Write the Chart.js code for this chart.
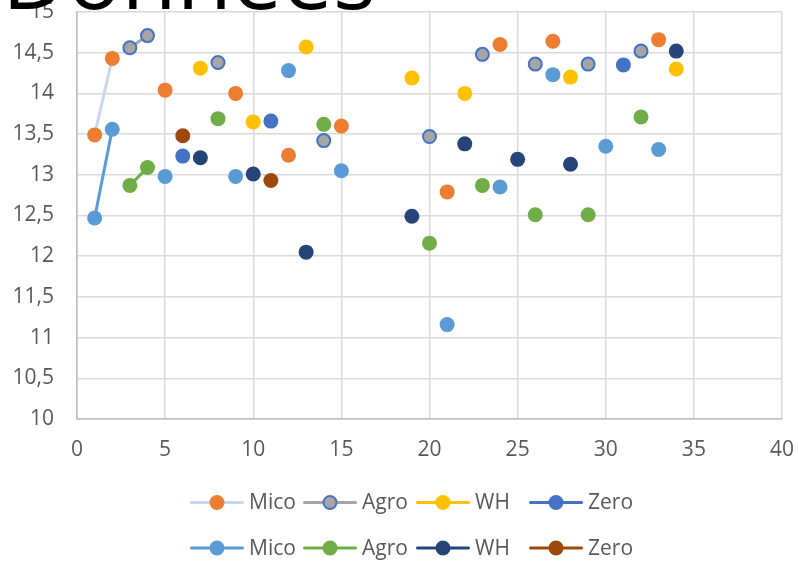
<!DOCTYPE html>
<html>
<head>
<meta charset="utf-8">
<script src="https://cdn.jsdelivr.net/npm/chart.js@4.4.1/dist/chart.umd.min.js"></script>
<style>
  html, body { margin: 0; padding: 0; background: #ffffff; overflow: hidden; }
  #wrap { position: relative; width: 798px; height: 562px; }
</style>
</head>
<body>
<div id="wrap"><canvas id="chart" width="798" height="562"></canvas></div>
<script>
// Row numbers used as x values
const rows = [1, 2, 3, 4, 5, 6, 7, 8, 9, 10, 11, 12, 13, 14, 15, 16, 17,
              18, 19, 20, 21, 22, 23, 24, 25, 26, 27, 28, 29, 30, 31, 32, 33, 34];

const seriesNames = ['Mico', 'Agro', 'WH', 'Zero', 'Mico', 'Agro', 'WH', 'Zero'];

// First group of series (blank cells left as null)
const micoA = [13.49, 14.43, null, null, 14.04, null, null, null, 14.00, null, null, 13.24, null, null, 13.60, null, null,
               null, null, null, 12.79, null, null, 14.60, null, null, 14.64, null, null, null, null, null, 14.66, null];
const agroA = [null, null, 14.56, 14.71, null, null, null, 14.38, null, null, null, null, null, 13.42, null, null, null,
               null, null, 13.47, null, null, 14.48, null, null, 14.36, null, null, 14.36, null, null, 14.52, null, null];
const whA   = [null, null, null, null, null, null, 14.31, null, null, 13.65, null, null, 14.57, null, null, null, null,
               null, 14.19, null, null, 14.00, null, null, null, null, null, 14.20, null, null, null, null, null, 14.30];
const zeroA = [null, null, null, null, null, 13.23, null, null, null, null, 13.66, null, null, null, null, null, null,
               null, null, null, null, null, null, null, null, null, null, null, null, null, 14.35, null, null, null];

// Second group of series
const micoB = [12.47, 13.56, null, null, 12.98, null, null, null, 12.98, null, null, 14.28, null, null, 13.05, null, null,
               null, null, null, 11.16, null, null, 12.85, null, null, 14.23, null, null, 13.35, null, null, 13.31, null];
const agroB = [null, null, 12.87, 13.09, null, null, null, 13.69, null, null, null, null, null, 13.62, null, null, null,
               null, null, 12.16, null, null, 12.87, null, null, 12.51, null, null, 12.51, null, null, 13.71, null, null];
const whB   = [null, null, null, null, null, null, 13.21, null, null, 13.01, null, null, 12.05, null, null, null, null,
               null, 12.49, null, null, 13.38, null, null, 13.19, null, null, 13.13, null, null, null, null, null, 14.52];
const zeroB = [null, null, null, null, null, 13.48, null, null, null, null, 12.93, null, null, null, null, null, null,
               null, null, null, null, null, null, null, null, null, null, null, null, null, null, null, null, null];

const xTickLabels = ['0', '5', '10', '15', '20', '25', '30', '35', '40'];
const yTickLabels = ['10', '10,5', '11', '11,5', '12', '12,5', '13', '13,5', '14', '14,5', '15'];

const titleText = 'Données';

const seriesValues = [micoA, agroA, whA, zeroA, micoB, agroB, whB, zeroB];

// Styling per series: line colour, marker fill, marker border
const styles = [
  { line: '#C7D6EF', fill: '#ED7D31', border: '#ED7D31', bw: 0 },
  { line: '#A5A5A5', fill: '#A5A5A5', border: '#4472C4', bw: 2 },
  { line: '#FFC000', fill: '#FFC000', border: '#FFC000', bw: 0 },
  { line: '#4472C4', fill: '#4472C4', border: '#4472C4', bw: 0 },
  { line: '#5B9BD5', fill: '#5B9BD5', border: '#5B9BD5', bw: 0 },
  { line: '#70AD47', fill: '#70AD47', border: '#70AD47', bw: 0 },
  { line: '#264478', fill: '#264478', border: '#264478', bw: 0 },
  { line: '#9E480E', fill: '#9E480E', border: '#9E480E', bw: 0 }
];

const FONT = '"Open Sans", "DejaVu Sans", sans-serif';
const TEXT_COLOR = '#595959';

const datasets = seriesValues.map((vals, i) => ({
  label: seriesNames[i],
  data: rows.map((x, k) => ({ x: x, y: vals[k] })),
  showLine: true,
  spanGaps: false,
  borderColor: styles[i].line,
  borderWidth: 3,
  borderCapStyle: 'round',
  pointRadius: styles[i].bw ? 6.5 : 7.5,
  pointBackgroundColor: styles[i].fill,
  pointBorderColor: styles[i].border,
  pointBorderWidth: styles[i].bw,
  order: -i
}));

// Large chart title
const titlePlugin = {
  id: 'bigTitle',
  afterDraw(chart) {
    const ctx = chart.ctx;
    ctx.save();
    ctx.font = '90px ' + FONT;
    ctx.fillStyle = '#000000';
    ctx.textAlign = 'left';
    ctx.textBaseline = 'alphabetic';
    ctx.fillText(titleText, 2, 9);
    ctx.restore();
  }
};

// Two-row legend with line-and-marker samples in equal columns
const legendPlugin = {
  id: 'gridLegend',
  afterDraw(chart) {
    const ctx = chart.ctx;
    const colW = 113, lineLen = 54, left = 190;
    const rowY = [502.5, 548];
    ctx.save();
    ctx.font = '21px ' + FONT;
    ctx.textBaseline = 'middle';
    ctx.textAlign = 'left';
    chart.data.datasets.forEach((ds, i) => {
      const x0 = left + (i % 4) * colW;
      const y = rowY[Math.floor(i / 4)];
      ctx.strokeStyle = ds.borderColor;
      ctx.lineWidth = 3;
      ctx.lineCap = 'round';
      ctx.beginPath();
      ctx.moveTo(x0 + 1.5, y);
      ctx.lineTo(x0 + lineLen - 1.5, y);
      ctx.stroke();
      ctx.beginPath();
      ctx.arc(x0 + lineLen / 2, y, ds.pointRadius, 0, Math.PI * 2);
      ctx.fillStyle = ds.pointBackgroundColor;
      ctx.fill();
      if (ds.pointBorderWidth > 0) {
        ctx.lineWidth = ds.pointBorderWidth;
        ctx.strokeStyle = ds.pointBorderColor;
        ctx.stroke();
      }
      ctx.fillStyle = TEXT_COLOR;
      ctx.fillText(ds.label, x0 + lineLen + 5, y + 1);
    });
    ctx.restore();
  }
};

// Keep the plot area fixed: no extra room reserved for overhanging tick labels
function fixBox(size, key) {
  return function (scale) {
    scale[key] = size;
    scale.paddingTop = 0;
    scale.paddingBottom = 0;
    scale.paddingLeft = 0;
    scale.paddingRight = 0;
  };
}

new Chart(document.getElementById('chart'), {
  type: 'scatter',
  data: { datasets: datasets },
  options: {
    responsive: false,
    animation: false,
    events: [],
    layout: { padding: { top: 12, right: 16, bottom: 103, left: 0 } },
    plugins: {
      legend: { display: false },
      tooltip: { enabled: false },
      title: { display: false }
    },
    scales: {
      x: {
        type: 'linear',
        min: 0,
        max: 40,
        afterFit: fixBox(40, 'height'),
        ticks: {
          stepSize: 5,
          padding: 18,
          color: TEXT_COLOR,
          font: { family: FONT, size: 21 },
          callback: (v, idx) => xTickLabels[idx]
        },
        grid: {
          drawTicks: false,
          lineWidth: 1.5,
          color: (c) => (c.tick && c.tick.value === 0 ? '#BFBFBF' : '#D9D9D9')
        },
        border: { display: true, color: '#BFBFBF', width: 1.5 }
      },
      y: {
        type: 'linear',
        min: 10,
        max: 15,
        afterFit: fixBox(77, 'width'),
        ticks: {
          stepSize: 0.5,
          padding: 23,
          color: TEXT_COLOR,
          font: { family: FONT, size: 21 },
          callback: (v, idx) => yTickLabels[idx]
        },
        grid: {
          drawTicks: false,
          lineWidth: 1.5,
          color: (c) => (c.tick && c.tick.value === 10 ? '#BFBFBF' : '#D9D9D9')
        },
        border: { display: true, color: '#BFBFBF', width: 1.5 }
      }
    }
  },
  plugins: [titlePlugin, legendPlugin]
});
</script>
</body>
</html>
